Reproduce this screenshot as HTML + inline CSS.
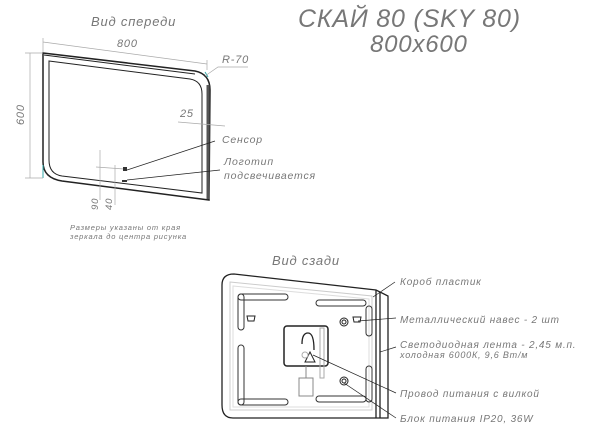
<!DOCTYPE html>
<html><head><meta charset="utf-8"><style>
body{margin:0;background:#fff}
svg text{font-family:"Liberation Sans","DejaVu Sans",sans-serif;font-style:italic;fill:#777;letter-spacing:0.8px}
</style></head><body>
<svg width="600" height="424" viewBox="0 0 600 424" xmlns="http://www.w3.org/2000/svg">
<g fill="none" stroke="#222" stroke-width="1">
<path d="M43,53 L195,71 Q210,74 210,90 L209,200 L62,181 Q43,178 43,162 Z" stroke-width="1.5"/>
<path d="M44,55 L195,74"/>
<path d="M49,61 L190,79 Q202,81 202,94 L202,193 L62,176 Q49,174 49,160 Z"/>
<path d="M208,85 L208,199" stroke="#555" stroke-width="3"/>
</g>
<path d="M43,165 L43,178" stroke="#3aa"/>
<path d="M205,72 L208,77" stroke="#3aa"/>
<g stroke="#aaa" stroke-width="0.7" fill="none">
<path d="M43,42 L207,64 M43,38 L43,52 M207,60 L207,70"/>
<path d="M30,53 L30,178 M25,53 L43,53 M25,178 L43,178"/>
<path d="M205,76 L218,67 L248,67"/>
<path d="M178,122 L225,126"/>
<path d="M100,150 L100,200 M115,165 L115,205 M96,167 L124,169"/>
</g>
<g stroke="#222" stroke-width="0.7">
<path d="M127,170 L215,141"/>
<path d="M127,180 L220,170"/>
</g>
<rect x="123" y="167" width="4" height="4" fill="#333"/>
<rect x="122" y="180" width="5" height="2" fill="#333"/>
<text x="91" y="26" font-size="13">Вид спереди</text>
<text x="117" y="47" font-size="11">800</text>
<text font-size="11" transform="translate(24,125) rotate(-90)">600</text>
<text x="222" y="63" font-size="11">R-70</text>
<text x="180" y="117" font-size="11">25</text>
<text x="222" y="143" font-size="10.5">Сенсор</text>
<text x="224" y="165" font-size="10.5">Логотип</text>
<text x="224" y="179" font-size="10.5">подсвечивается</text>
<text font-size="9.5" transform="translate(98,210) rotate(-90)">90</text>
<text font-size="9.5" transform="translate(112,210) rotate(-90)">40</text>
<text x="70" y="230" font-size="7.5">Размеры указаны от края</text>
<text x="70" y="239" font-size="7.5">зеркала до центра рисунка</text>
<text x="298" y="27" font-size="25" letter-spacing="2">СКАЙ 80 (SKY 80)</text>
<text x="370" y="52" font-size="24" letter-spacing="2">800x600</text>
<text x="272" y="265" font-size="13">Вид сзади</text>
<g fill="none" stroke="#222">
<path d="M234,274 L376,290 L388,296 L388,418 L233,418 Q222,418 222,405 L222,285 Q222,274 234,274 Z" stroke-width="1.3"/>
<path d="M376,290 L376,418 M380,292 L380,418" stroke-width="1.3"/>
<path d="M230,282 L372,296 L372,410 L230,410 Z" stroke="#ccc"/>
<path d="M233,286 L369,299 L369,407 L233,407 Z" stroke="#ddd"/>
<g stroke="#333" stroke-width="1">
<rect x="238" y="294" width="6" height="36" rx="3"/>
<rect x="238" y="294" width="50" height="6" rx="3"/>
<rect x="316" y="300" width="50" height="6" rx="3"/>
<rect x="366" y="306" width="6" height="30" rx="3"/>
<rect x="238" y="345" width="6" height="60" rx="3"/>
<rect x="238" y="399" width="50" height="6" rx="3"/>
<rect x="316" y="396" width="50" height="6" rx="3"/>
<rect x="366" y="366" width="6" height="36" rx="3"/>
</g>
<rect x="284" y="326" width="44" height="40" rx="3" stroke-width="1.5"/>
<path d="M302,344 Q302,333 308,333 Q314,333 314,350" stroke-width="1.3"/>
<path d="M310,352 L315,362 L305,362 Z"/>
<circle cx="305" cy="355" r="3" stroke="#aaa"/>
<rect x="320" y="328" width="4" height="50" stroke="#aaa"/>
<rect x="299" y="378" width="14" height="18" stroke="#888"/>
<path d="M306,366 L306,378" stroke="#888"/>
<path d="M247,316 l8,0 l-1,5 l-6,0 Z"/>
<path d="M353,317 l8,0 l-1,5 l-6,0 Z"/>
<circle cx="344" cy="322" r="4"/>
<circle cx="344" cy="322" r="2"/>
<circle cx="344" cy="381" r="4"/>
<circle cx="344" cy="381" r="2"/>
</g>
<g stroke="#222" stroke-width="0.7">
<path d="M373,297 L395,282"/>
<path d="M358,321 L396,318"/>
<path d="M380,352 L396,347"/>
<path d="M313,355 L396,393"/>
<path d="M344,383 L396,418"/>
</g>
<text x="400" y="285" font-size="10">Короб пластик</text>
<text x="400" y="323" font-size="10">Металлический навес - 2 шт</text>
<text x="400" y="348" font-size="10">Светодиодная лента - 2,45 м.п.</text>
<text x="400" y="358" font-size="9">холодная 6000К, 9,6 Вт/м</text>
<text x="400" y="397" font-size="10">Провод питания с вилкой</text>
<text x="400" y="422" font-size="10">Блок питания IP20, 36W</text>
</svg>
</body></html>
